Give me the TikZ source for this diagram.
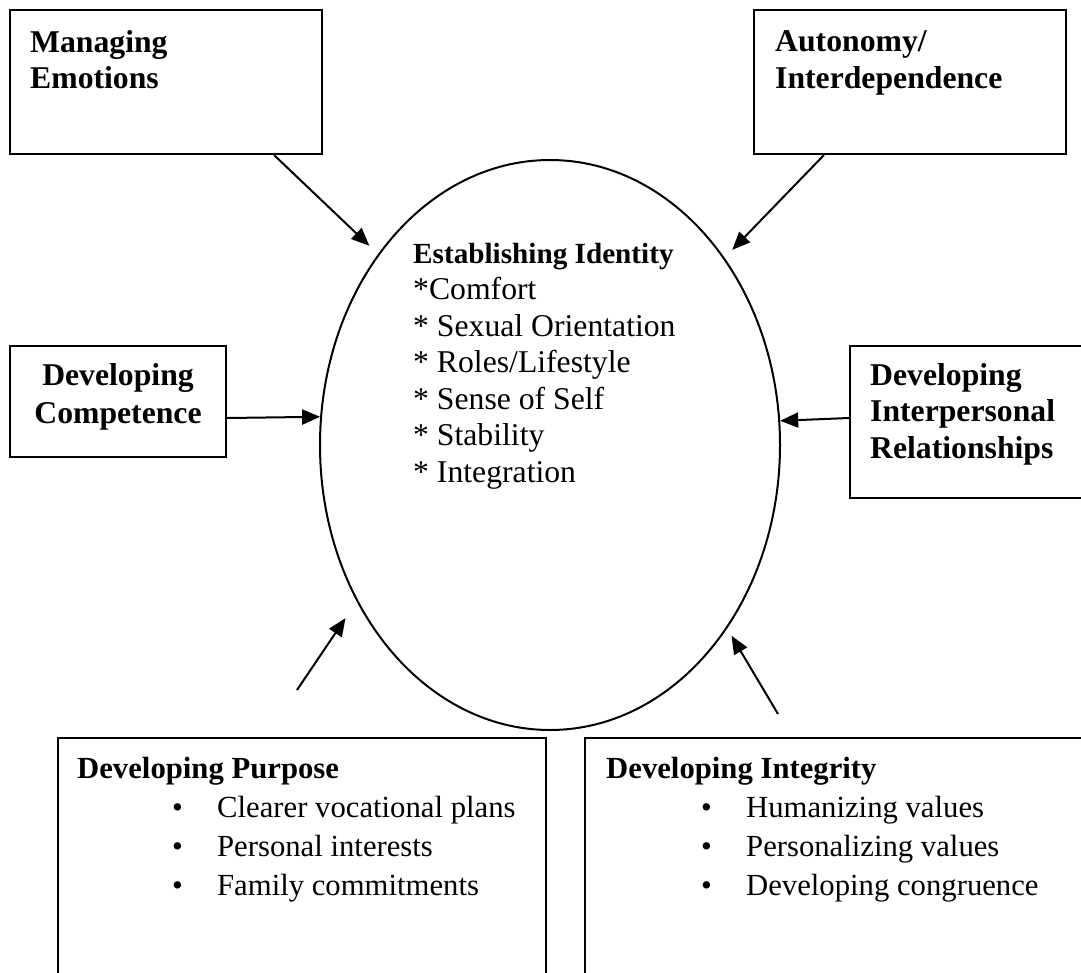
\documentclass[tikz,border=0pt]{standalone}
\usepackage{fontspec}
\setmainfont{Liberation Serif}
\usepackage{tikz}
\usetikzlibrary{shapes,arrows,positioning,calc,arrows.meta}

\newcommand{\stageitem}[1]{\hspace*{95pt}\makebox[45pt][l]{\textbullet}#1}

\begin{document}
\begin{tikzpicture}[x=1pt, y=-1pt,
    stage/.style={draw, line width=2.2pt, inner sep=0pt},
    txt/.style={align=left, inner sep=0pt, anchor=base west, font=\fontsize{31.7}{36.5}\selectfont},
    head/.style={txt, font=\fontsize{31.7}{36.5}\selectfont\bfseries},
    arr/.style={-{Triangle[length=18pt,width=15pt]}, line width=2pt}]
    \useasboundingbox (0,0) rectangle (1081,972);

    % centre: identity (base anchor = last line)
    \node [draw, ellipse, line width=2pt, minimum width=460pt, minimum height=570pt, inner sep=0pt] (ident) at (550,445) {};
    \node [txt] (idtxt) at (413,482) {{\fontsize{29.2}{36.5}\selectfont\bfseries Establishing Identity}\\{}*Comfort\\{}* Sexual Orientation\\{}* Roles/Lifestyle\\{}* Sense of Self\\{}* Stability\\{}* Integration};

    % vectors round it
    \node [stage, minimum width=312pt, minimum height=144pt] (emo) at (166,82) {};
    \node [stage, minimum width=312pt, minimum height=144pt] (auto) at (910,82) {};
    \node [stage, minimum width=216pt, minimum height=111pt] (comp) at (118,401.5) {};
    \node [stage, minimum width=245pt, minimum height=152pt] (rel) at (972.5,422) {};
    \node [stage, minimum width=488pt, minimum height=262pt] (purp) at (302,869) {};
    \node [stage, minimum width=510pt, minimum height=262pt] (integ) at (840,869) {};

    \node [head] (emotxt) at (30,88.5) {Managing\\Emotions};
    \node [head] (autotxt) at (775,88) {Autonomy/\\Interdependence};
    \node [head, align=center, anchor=base, font=\fontsize{31.7}{38}\selectfont\bfseries] (comptxt) at (118,423) {Developing\\Competence};
    \node [head] (reltxt) at (870,458) {Developing\\Interpersonal\\Relationships};
    \node [txt, font=\fontsize{30.7}{38.7}\selectfont] (purptxt) at (77,895) {\textbf{Developing Purpose}\\\stageitem{Clearer vocational plans}\\\stageitem{Personal interests}\\\stageitem{Family commitments}};
    \node [txt, font=\fontsize{30.7}{38.7}\selectfont] (integtxt) at (606,895) {\textbf{Developing Integrity}\\\stageitem{Humanizing values}\\\stageitem{Personalizing values}\\\stageitem{Developing congruence}};

    \coordinate (purpfrom) at (297,690);
    \coordinate (integfrom) at (778,714);

    \draw [arr, shorten >=12pt] ([xshift=-49pt]emo.south east) -- (ident.132.7);
    \draw [arr, shorten >=11pt] ([xshift=71pt]auto.south west) -- (ident.47.6);
    \draw [arr] ([yshift=-16.5pt]comp.east) -- (ident.173.3);
    \draw [arr] ([yshift=4pt]rel.west) -- (ident.6.7);
    \draw [arr, shorten >=20pt] (purpfrom) -- (ident.219);
    \draw [arr, shorten >=8.5pt] (integfrom) -- (ident.314);
\end{tikzpicture}
\end{document}
